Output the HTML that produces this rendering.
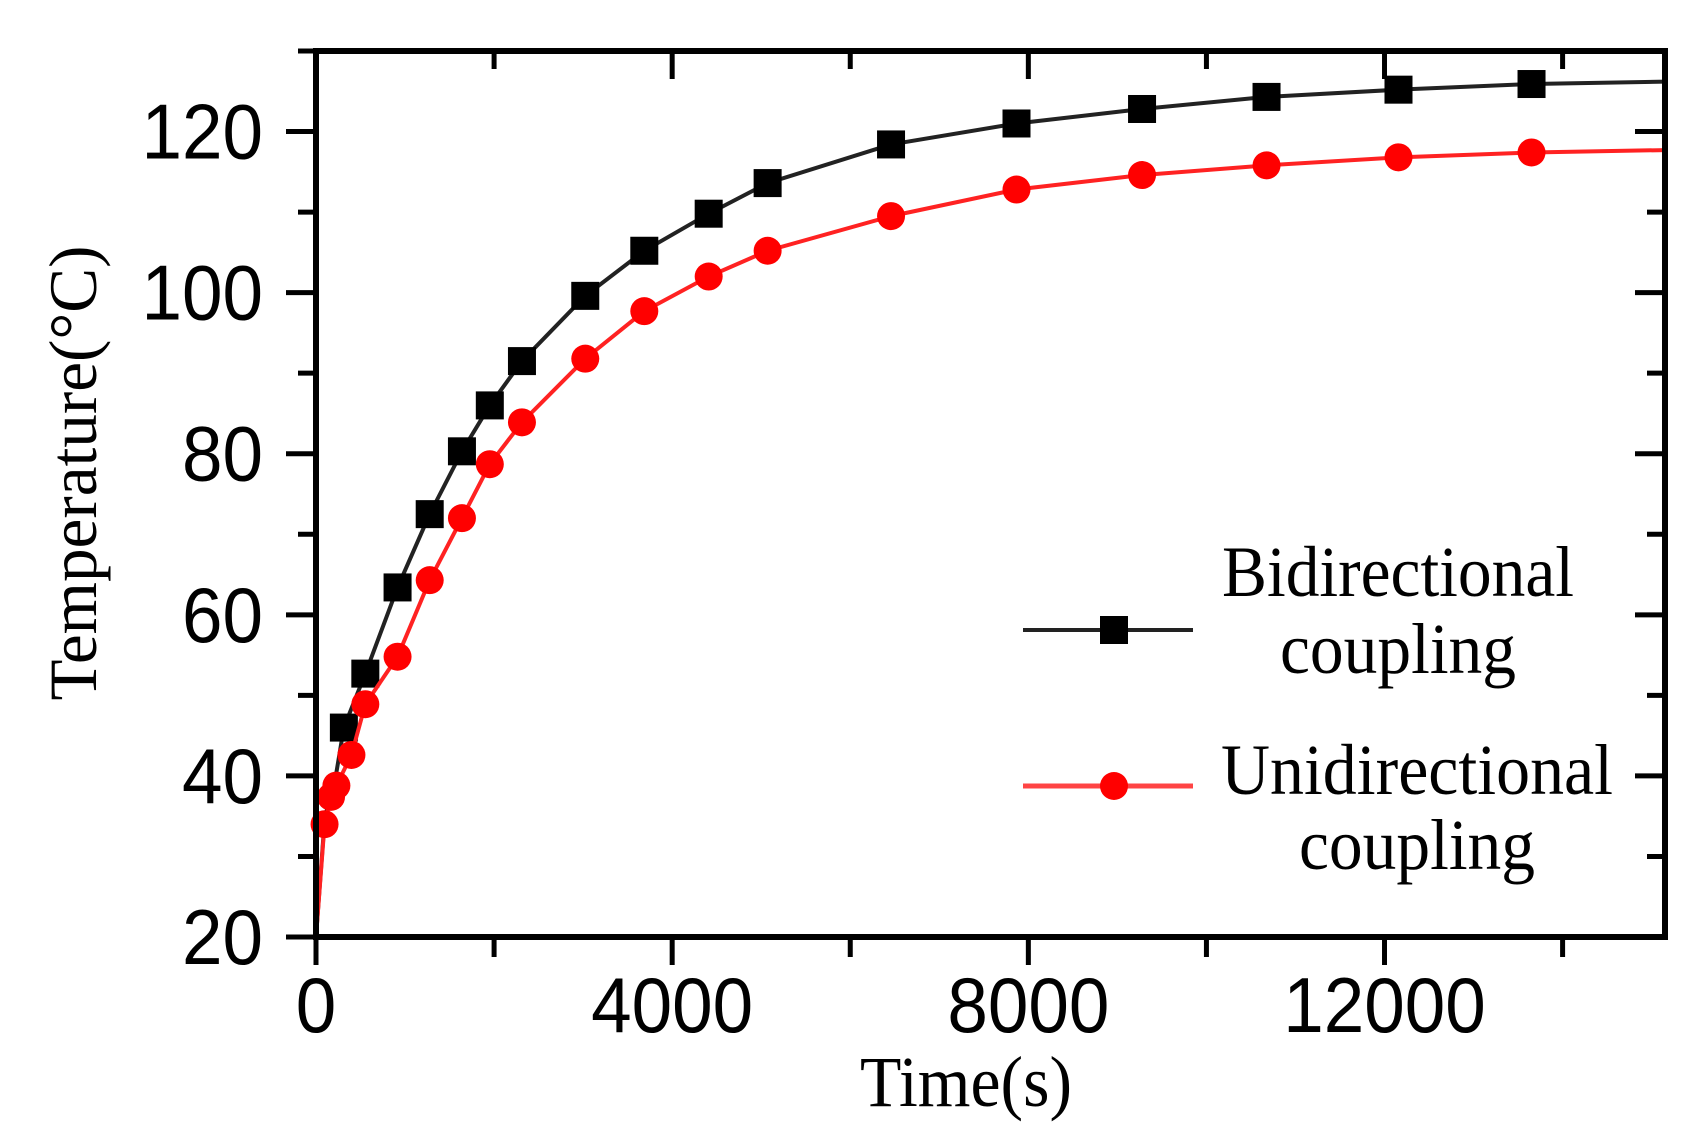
<!DOCTYPE html>
<html><head><meta charset="utf-8"><style>
html,body{margin:0;padding:0;background:#fff;}
svg{display:block;}
</style></head><body>
<svg id="chart" width="1697" height="1142" viewBox="0 0 1697 1142" xmlns="http://www.w3.org/2000/svg">
<g id="ticks"></g>
<g id="series"></g>
<rect x="316" y="51" width="1349" height="886" fill="none" stroke="#000" stroke-width="6"/>
<text x="96" y="473" transform="rotate(-90 96 473)" text-anchor="middle" font-family="Liberation Serif, serif" font-size="68" textLength="455" lengthAdjust="spacingAndGlyphs" fill="#000">Temperature(°C)</text>
<text x="966" y="1106" text-anchor="middle" font-family="Liberation Serif, serif" font-size="72" textLength="212" lengthAdjust="spacingAndGlyphs" fill="#000">Time(s)</text>
<g>
<g>
<line x1="1023" y1="630" x2="1193" y2="630" stroke="#222" stroke-width="4"/>
<rect x="1100" y="616" width="28" height="28" fill="#000"/>
<text x="1398" y="596" text-anchor="middle" font-family="Liberation Serif, serif" font-size="72" textLength="352" lengthAdjust="spacingAndGlyphs" fill="#000">Bidirectional</text>
<text x="1398" y="673" text-anchor="middle" font-family="Liberation Serif, serif" font-size="72" textLength="236" lengthAdjust="spacingAndGlyphs" fill="#000">coupling</text>
</g>
<g>
<line x1="1023" y1="786" x2="1193" y2="786" stroke="#f44" stroke-width="5"/>
<circle cx="1114" cy="786" r="14" fill="#f00"/>
<text x="1417" y="794" text-anchor="middle" font-family="Liberation Serif, serif" font-size="72" textLength="392" lengthAdjust="spacingAndGlyphs" fill="#000">Unidirectional</text>
<text x="1417" y="869" text-anchor="middle" font-family="Liberation Serif, serif" font-size="72" textLength="236" lengthAdjust="spacingAndGlyphs" fill="#000">coupling</text>
</g>
</g>
</svg>
<script>
const timeBi = [0,100,200,313,554,916,1277,1639,1952,2313,3024,3687,4410,5072,6458,7867,9277,10675,12157,13651,15150];
const tempBi = [20,35,38.5,46,52.7,63.4,72.5,80.3,86,91.5,99.6,105.2,109.8,113.6,118.4,121,122.8,124.3,125.2,125.9,126.2];
const markBi = [false,false,false,true,true,true,true,true,true,true,true,true,true,true,true,true,true,true,true,true,false];
const timeUni = [0,96,169,229,398,554,916,1277,1639,1952,2313,3024,3687,4410,5072,6458,7867,9277,10675,12157,13651,15150];
const tempUni = [20,34,37.4,38.8,42.6,48.9,54.8,64.3,72,78.7,83.9,91.8,97.7,102,105.2,109.5,112.8,114.6,115.8,116.8,117.4,117.7];
const markUni = [false,true,true,true,true,true,true,true,true,true,true,true,true,true,true,true,true,true,true,true,true,false];
const xTicks = [0,4000,8000,12000];
const xMinor = [2000,6000,10000,14000];
const yTicks = [20,40,60,80,100,120];
const yMinor = [30,50,70,90,110,130];
const X0=316,X1=1665,Y0=937,Y1=51,XMAX=15150,YMIN=20,YMAX=130;
const sx=v=>X0+(v/XMAX)*(X1-X0);
const sy=v=>Y0-(v-YMIN)/(YMAX-YMIN)*(Y0-Y1);
const NS="http://www.w3.org/2000/svg";
const tg=document.getElementById('ticks'), sg=document.getElementById('series');
function mk(tag,attrs,parent){const e=document.createElementNS(NS,tag);for(const k in attrs)e.setAttribute(k,attrs[k]);parent.appendChild(e);return e;}
const DIGW=40.5;
xTicks.forEach(v=>{const x=sx(v);
 const t=mk('line',{x1:x,y1:Y0,x2:x,y2:Y0+28,stroke:'#000','stroke-width':5},tg);
 
 
 const t2=mk('line',{x1:x,y1:Y1,x2:x,y2:Y1+28,stroke:'#000','stroke-width':5},tg);
 
 
 const s=String(v);
 const l=mk('text',{x:x,y:1032,'text-anchor':'middle','font-family':'Liberation Sans, sans-serif','font-size':78,textLength:s.length*DIGW,lengthAdjust:'spacingAndGlyphs',fill:'#000'},tg);
 l.textContent=s;
 
 
});
xMinor.forEach(v=>{const x=sx(v);
 const t=mk('line',{x1:x,y1:Y0,x2:x,y2:Y0+20,stroke:'#000','stroke-width':5},tg);
 
 
 const t2=mk('line',{x1:x,y1:Y1,x2:x,y2:Y1+18,stroke:'#000','stroke-width':5},tg);
 
 
});
yTicks.forEach(v=>{const y=sy(v);
 const t=mk('line',{x1:X0-30,y1:y,x2:X0,y2:y,stroke:'#000','stroke-width':5},tg);
 
 
 const t2=mk('line',{x1:X1-30,y1:y,x2:X1,y2:y,stroke:'#000','stroke-width':5},tg);
 
 
 const s=String(v);
 const l=mk('text',{x:263,y:y+27,'text-anchor':'end','font-family':'Liberation Sans, sans-serif','font-size':78,textLength:s.length*DIGW,lengthAdjust:'spacingAndGlyphs',fill:'#000'},tg);
 l.textContent=s;
 
 
});
yMinor.forEach(v=>{const y=sy(v);
 const t=mk('line',{x1:X0-18,y1:y,x2:X0,y2:y,stroke:'#000','stroke-width':5},tg);
 
 
 const t2=mk('line',{x1:X1-18,y1:y,x2:X1,y2:y,stroke:'#000','stroke-width':5},tg);
 
 
});
function series(ts,vs,ms,color,shape,name){
 const g=mk('g',{},sg);
 
 
 const pts=ts.map((t,i)=>sx(t)+','+sy(vs[i])).join(' ');
 const pl=mk('polyline',{points:pts,fill:'none',stroke:color,'stroke-width':4},g);
 
 
 ts.forEach((t,i)=>{if(!ms[i])return;const x=sx(t),y=sy(vs[i]);let m;
  if(shape==='sq')m=mk('rect',{x:x-14,y:y-14,width:28,height:28,fill:'#000'},g);
  else m=mk('circle',{cx:x,cy:y,r:14,fill:'#f00'},g);
  
  
 });
}
series(timeBi,tempBi,markBi,'#222','sq','bidirectional');
series(timeUni,tempUni,markUni,'#f22','ci','unidirectional');
</script>
</body></html>
